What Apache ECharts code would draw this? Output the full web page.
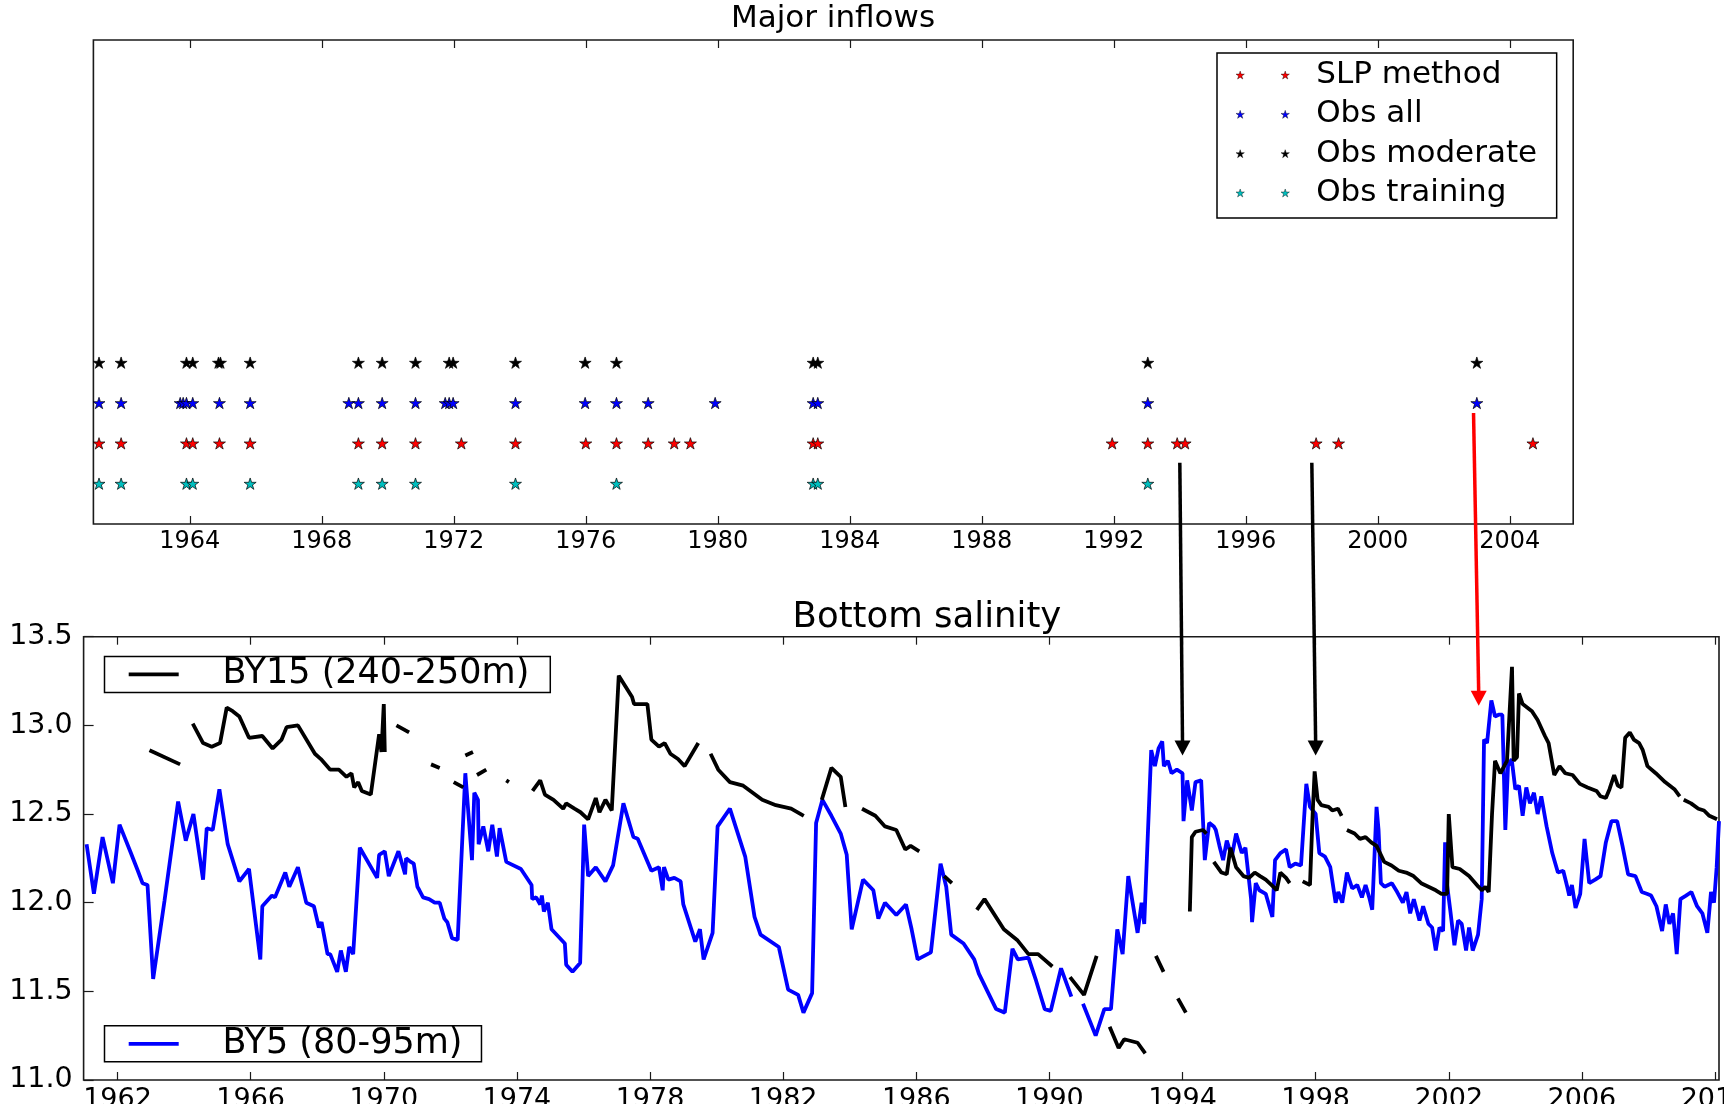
<!DOCTYPE html>
<html><head><meta charset="utf-8">
<script src="https://cdn.jsdelivr.net/npm/echarts@6/dist/echarts.min.js"></script>
<style>html,body{margin:0;padding:0;background:#fff;}#c{width:1724px;height:1104px;}</style>
</head><body><div id="c"></div>
<script>
// ---------- tick labels ----------
const topTicks = [1964, 1968, 1972, 1976, 1980, 1984, 1988, 1992, 1996, 2000, 2004];
const bottomTicks = [1962, 1966, 1970, 1974, 1978, 1982, 1986, 1990, 1994, 1998, 2002, 2006, 2010];

// ---------- Major inflows (years) ----------
const slpYears = [1961.25, 1961.92, 1963.90, 1964.09, 1964.90, 1965.83, 1969.11, 1969.83, 1970.84, 1972.23, 1973.87, 1976.00, 1976.93, 1977.89, 1978.68, 1979.17, 1982.89, 1983.03, 1991.95, 1993.03, 1993.92, 1994.16, 1998.13, 1998.81, 2004.70];
const obsAllYears = [1961.25, 1961.92, 1963.71, 1963.80, 1963.90, 1964.09, 1964.90, 1965.83, 1968.82, 1969.11, 1969.83, 1970.84, 1971.74, 1971.86, 1971.98, 1973.87, 1975.98, 1976.93, 1977.89, 1979.92, 1982.89, 1983.03, 1993.03, 2003.00];
const obsModerateYears = [1961.25, 1961.92, 1963.90, 1964.09, 1964.87, 1964.93, 1965.83, 1969.11, 1969.83, 1970.84, 1971.86, 1971.98, 1973.87, 1975.98, 1976.93, 1982.89, 1983.03, 1993.03, 2003.00];
const obsTrainingYears = [1961.25, 1961.92, 1963.90, 1964.09, 1965.83, 1969.11, 1969.83, 1970.84, 1973.87, 1976.93, 1982.89, 1983.03, 1993.03];
const rowSlp = 2, rowAll = 3, rowModerate = 4, rowTraining = 1;

// ---------- Bottom salinity ----------
const by15Years = [1962.96,1963.88,null,
1964.26,1964.57,1964.83,1965.08,1965.28,1965.46,1965.66,1965.95,1966.35,1966.66,1966.93,1967.08,1967.42,1967.93,1968.11,1968.39,1968.65,1968.88,1969.03,1969.11,1969.23,1969.34,1969.61,1969.86,1969.93,1970.00,1970.03,null,
1970.38,1970.76,null,1971.42,1971.68,null,1972.10,1972.39,null,1972.45,1972.68,null,1972.80,1973.08,null,1973.68,1973.76,null,
1974.47,1974.70,1974.84,1975.10,1975.39,1975.48,1975.73,1975.91,1976.14,1976.37,1976.48,1976.66,1976.85,1977.06,1977.46,1977.52,1977.92,1978.04,1978.27,1978.44,1978.61,1978.84,1979.04,1979.45,null,
1979.82,1980.05,1980.40,1980.80,1981.37,1981.78,1982.24,1982.62,null,
1983.16,1983.45,1983.73,1983.87,null,
1984.37,1984.77,1985.06,1985.40,1985.67,1985.83,1986.09,null,
1986.84,1987.07,null,
1987.82,1988.05,1988.63,1989.03,1989.37,1989.66,1990.09,null,
1990.62,1991.04,1991.42,null,
1991.81,1992.08,1992.25,1992.65,1992.88,null,
1993.20,1993.43,null,1993.86,1994.10,null,
1994.22,1994.28,1994.39,1994.61,1994.72,null,
1994.94,1995.17,1995.33,1995.44,1995.61,1995.83,1996.00,1996.17,1996.33,1996.50,1996.67,1996.83,1996.94,1997.11,1997.22,null,
1997.61,1997.83,1997.91,1997.97,1998.06,1998.17,1998.39,1998.50,1998.67,1998.78,null,
1998.94,1999.17,1999.33,1999.50,1999.67,1999.83,2000.06,2000.28,2000.50,2000.72,2000.94,2001.17,2001.39,2001.61,2001.78,2001.95,2002.00,2002.11,2002.33,2002.61,2002.89,2003.00,2003.10,2003.20,2003.30,2003.39,2003.55,2003.75,2003.90,2003.95,2004.05,2004.11,2004.22,2004.50,2004.67,2004.89,2005.00,2005.17,2005.33,2005.50,2005.72,2005.94,2006.17,2006.44,2006.56,2006.72,2006.83,2006.97,2007.08,2007.19,2007.30,2007.44,2007.56,2007.72,2007.83,2007.97,2008.22,2008.50,2008.78,2008.94,null,
2009.06,2009.28,2009.50,2009.67,2009.83,2010.06];
const by15Sal = [12.86,12.78,null,
13.01,12.90,12.88,12.90,13.10,13.08,13.05,12.93,12.94,12.87,12.92,12.99,13.00,12.84,12.81,12.75,12.75,12.71,12.73,12.65,12.68,12.63,12.61,12.95,12.85,13.12,12.85,null,
13.00,12.96,null,12.78,12.76,null,12.68,12.65,null,12.83,12.85,null,12.72,12.75,null,12.69,12.68,null,
12.63,12.69,12.61,12.58,12.53,12.56,12.53,12.51,12.47,12.59,12.51,12.58,12.52,13.28,13.16,13.12,13.12,12.92,12.88,12.90,12.84,12.81,12.77,12.90,null,
12.84,12.75,12.68,12.66,12.58,12.55,12.53,12.49,null,
12.58,12.76,12.71,12.54,null,
12.53,12.49,12.43,12.41,12.30,12.32,12.29,null,
12.15,12.11,null,
11.96,12.02,11.85,11.79,11.71,11.71,11.64,null,
11.58,11.48,11.70,null,
11.30,11.18,11.23,11.21,11.15,null,
11.70,11.61,null,11.46,11.38,null,
11.95,12.37,12.40,12.41,12.39,null,
12.23,12.17,12.16,12.31,12.20,12.15,12.14,12.17,12.15,12.13,12.10,12.07,12.17,12.14,12.11,null,
12.12,12.10,12.50,12.74,12.58,12.55,12.54,12.52,12.53,12.49,null,
12.41,12.39,12.36,12.37,12.34,12.32,12.23,12.21,12.18,12.17,12.15,12.11,12.09,12.07,12.05,12.05,12.50,12.20,12.19,12.15,12.09,12.07,12.09,12.06,12.50,12.80,12.73,12.80,13.33,12.80,12.82,13.18,13.12,13.08,13.03,12.94,12.90,12.72,12.77,12.73,12.72,12.67,12.65,12.63,12.60,12.59,12.64,12.72,12.66,12.65,12.93,12.96,12.92,12.90,12.86,12.77,12.73,12.68,12.64,12.60,null,
12.58,12.56,12.53,12.52,12.49,12.47];

const by5Years = [1961.07,1961.29,1961.55,1961.86,1962.06,1962.38,1962.61,1962.75,1962.90,1963.07,1963.41,1963.82,1964.05,1964.28,1964.57,1964.68,1964.86,1965.06,1965.31,1965.66,1965.95,1966.29,1966.35,1966.64,1966.73,1967.04,1967.16,1967.42,1967.67,1967.90,1968.05,1968.13,1968.31,1968.39,1968.60,1968.71,1968.86,1968.96,1969.08,1969.28,1969.80,1969.86,1970.03,1970.15,1970.44,1970.64,1970.67,1970.81,1970.90,1971.01,1971.07,1971.18,1971.36,1971.53,1971.68,1971.82,1971.91,1972.05,1972.22,1972.45,1972.65,1972.72,1972.83,1972.85,1972.99,1973.14,1973.26,1973.40,1973.48,1973.68,1974.12,1974.44,1974.46,1974.58,1974.70,1974.75,1974.81,1974.93,1975.04,1975.44,1975.48,1975.67,1975.90,1976.02,1976.14,1976.37,1976.66,1976.89,1977.20,1977.50,1977.63,1978.04,1978.27,1978.38,1978.42,1978.55,1978.73,1978.92,1979.00,1979.36,1979.50,1979.61,1979.88,1980.03,1980.40,1980.86,1981.14,1981.32,1981.87,1982.15,1982.45,1982.61,1982.87,1982.99,1983.18,1983.45,1983.73,1983.91,1984.06,1984.40,1984.71,1984.86,1985.06,1985.40,1985.69,1985.86,1986.04,1986.44,1986.73,1986.90,1987.05,1987.42,1987.74,1987.88,1988.40,1988.66,1988.89,1989.05,1989.37,1989.60,1989.86,1990.04,1990.35,1990.66,null,
1991.01,1991.39,1991.65,1991.85,1992.04,1992.20,1992.37,1992.65,1992.77,1992.85,1993.06,1993.17,1993.28,1993.39,1993.44,1993.56,1993.67,1993.83,1994.00,1994.03,1994.14,1994.28,1994.39,1994.56,1994.67,1994.80,1994.94,1995.00,1995.11,1995.22,1995.33,1995.48,1995.61,1995.78,1995.89,1996.06,1996.09,1996.20,1996.31,1996.50,1996.70,1996.78,1996.94,1997.11,1997.22,1997.39,1997.56,1997.72,1997.83,1998.00,1998.11,1998.28,1998.44,1998.56,1998.60,1998.68,1998.80,1998.91,1998.94,1999.10,1999.25,1999.39,1999.50,1999.61,1999.70,1999.83,1999.89,1999.96,2000.07,2000.29,2000.45,2000.62,2000.73,2000.84,2000.95,2001.12,2001.23,2001.39,2001.50,2001.61,2001.72,2001.83,2001.89,2001.95,2002.05,2002.17,2002.28,2002.39,2002.52,2002.61,2002.72,2002.88,2002.99,2003.06,2003.15,2003.28,2003.39,2003.50,2003.61,2003.70,2003.78,2003.89,2004.00,2004.11,2004.22,2004.33,2004.44,2004.56,2004.67,2004.78,2004.94,2005.11,2005.28,2005.44,2005.56,2005.62,2005.70,2005.81,2005.95,2006.08,2006.22,2006.40,2006.56,2006.72,2006.89,2007.06,2007.22,2007.39,2007.61,2007.80,2007.95,2008.08,2008.24,2008.41,2008.52,2008.63,2008.74,2008.85,2008.96,2009.13,2009.29,2009.46,2009.62,2009.77,2009.88,2009.97,2010.05,2010.12];
const by5Sal = [12.33,12.05,12.37,12.11,12.44,12.29,12.18,12.11,12.10,11.57,12.01,12.57,12.35,12.50,12.13,12.42,12.41,12.64,12.33,12.12,12.19,11.68,11.98,12.04,12.03,12.17,12.09,12.20,12.00,11.98,11.86,11.89,11.71,11.71,11.61,11.73,11.61,11.75,11.71,12.31,12.14,12.27,12.29,12.15,12.29,12.16,12.25,12.23,12.22,12.09,12.07,12.03,12.02,12.00,12.00,11.91,11.89,11.80,11.79,12.73,12.24,12.62,12.58,12.33,12.43,12.29,12.44,12.26,12.42,12.23,12.19,12.10,12.02,12.03,11.99,12.04,11.95,12.00,11.85,11.77,11.65,11.61,11.66,12.44,12.15,12.20,12.12,12.21,12.56,12.37,12.36,12.18,12.20,12.07,12.20,12.13,12.14,12.12,11.99,11.78,11.85,11.68,11.83,12.43,12.53,12.26,11.92,11.82,11.75,11.51,11.48,11.38,11.49,12.45,12.58,12.49,12.39,12.27,11.85,12.13,12.07,11.91,12.00,11.93,11.99,11.85,11.68,11.72,12.22,12.09,11.82,11.77,11.68,11.60,11.40,11.38,11.74,11.68,11.69,11.56,11.40,11.39,11.63,11.47,null,
11.43,11.25,11.40,11.40,11.85,11.71,12.15,11.83,12.00,11.88,12.86,12.77,12.87,12.91,12.77,12.80,12.73,12.75,12.73,12.46,12.69,12.52,12.68,12.69,12.24,12.45,12.43,12.41,12.32,12.24,12.35,12.26,12.39,12.28,12.31,12.02,11.89,12.11,12.07,12.05,11.92,12.24,12.28,12.30,12.20,12.22,12.21,12.67,12.54,12.50,12.28,12.26,12.20,12.05,12.00,12.06,12.00,12.13,12.17,12.08,12.10,12.03,12.10,12.03,11.96,12.54,12.41,12.11,12.09,12.11,12.06,12.00,12.06,11.94,12.02,11.90,11.98,11.88,11.86,11.73,11.86,11.84,12.34,12.10,11.95,11.76,11.90,11.88,11.73,11.86,11.73,11.82,12.02,12.92,12.90,13.14,13.05,13.06,13.06,12.41,12.77,12.81,12.64,12.66,12.49,12.65,12.56,12.62,12.50,12.60,12.43,12.28,12.17,12.18,12.09,12.04,12.10,11.97,12.05,12.36,12.11,12.13,12.15,12.34,12.46,12.46,12.32,12.16,12.15,12.06,12.05,12.04,11.98,11.84,11.99,11.88,11.94,11.71,12.02,12.04,12.06,11.98,11.94,11.83,12.06,12.00,12.20,12.46];

// ---------- arrows linking the panels ----------
const arrowYears = [1994.0, 1998.0, 2002.9];
const arrowStartRow = [1.52, 1.52, 2.75];
const arrowTipSal = [12.83, 12.83, 13.11];
const arrowColors = ['#000000', '#000000', '#ff0000'];

// ---------- helpers ----------
const FONT = 'DejaVu Sans';
function starPath(cx, cy, R) {
  const r = R * 0.381966, pts = [];
  for (let i = 0; i < 10; i++) {
    const a = -Math.PI / 2 + i * Math.PI / 5, rr = i % 2 ? r : R;
    pts.push((cx + rr * Math.cos(a)).toFixed(4) + ' ' + (cy + rr * Math.sin(a)).toFixed(4));
  }
  return 'M' + pts.join(' L') + ' Z';
}
const starSymbol = 'path://' + starPath(0, 0, 1);
const twoStarIcon = 'path://' + starPath(0, 0, 1) + ' ' + starPath(10.23, 0, 1);
const pairs = (xs, ys) => xs.map((x, i) => ys[i] == null ? [x, '-'] : [x, ys[i]]);
const rowData = (yrs, row) => yrs.map(y => [y, row]);

const chart = echarts.init(document.getElementById('c'), null, {renderer: 'canvas'});
const axisCol = '#1a1a1a';
function xAx(grid, pos, min, max, ticks, labelSize) {
  return {
    type: 'value', gridIndex: grid, position: pos, min: min, max: max,
    axisLine: {show: false}, splitLine: {show: false},
    axisTick: {show: true, inside: true, length: 8, customValues: ticks, lineStyle: {color: axisCol, width: 1.2}},
    axisLabel: {show: pos === 'bottom', customValues: ticks, formatter: v => String(v), fontSize: labelSize,
      fontFamily: FONT, color: '#000', margin: 6, hideOverlap: false}
  };
}
const starColors = {'SLP method': '#ff0000', 'Obs all': '#0000ff', 'Obs moderate': '#000000', 'Obs training': '#00bfbf'};
const legendStarItem = name => ({name: name, itemStyle: {color: starColors[name], borderColor: '#000', borderWidth: 0.4}});
const option = {
  animation: false,
  backgroundColor: '#fff',
  title: [
    {text: 'Major inflows', left: 833, top: 3, textAlign: 'center', padding: 0,
      textStyle: {fontSize: 31, fontWeight: 'normal', fontFamily: FONT, color: '#000'}},
    {text: 'Bottom salinity', left: 927, top: 600, textAlign: 'center', padding: 0,
      textStyle: {fontSize: 35.5, fontWeight: 'normal', fontFamily: FONT, color: '#000'}}
  ],
  grid: [
    {left: 93.4, top: 40, width: 1479.8, height: 484, show: true, borderColor: axisCol, borderWidth: 1.6,
      backgroundColor: 'transparent', outerBoundsMode: 'none', containLabel: false},
    {left: 83.6, top: 636.7, width: 1635.4, height: 443.3, show: true, borderColor: axisCol, borderWidth: 1.6,
      backgroundColor: 'transparent', outerBoundsMode: 'none', containLabel: false}
  ],
  xAxis: [
    xAx(0, 'bottom', 1961.08, 2005.92, topTicks, 24),
    xAx(0, 'top', 1961.08, 2005.92, topTicks, 24),
    xAx(1, 'bottom', 1960.98, 2010.12, bottomTicks, 27),
    xAx(1, 'top', 1960.98, 2010.12, bottomTicks, 27)
  ],
  yAxis: [
    {type: 'value', gridIndex: 0, min: 0, max: 12, axisLine: {show: false}, axisTick: {show: false}, axisLabel: {show: false}, splitLine: {show: false}},
    {type: 'value', gridIndex: 1, min: 11, max: 13.5, interval: 0.5, axisLine: {show: false}, splitLine: {show: false},
      axisTick: {show: true, inside: true, length: 10, lineStyle: {color: axisCol, width: 1.2}},
      axisLabel: {formatter: v => v.toFixed(1), fontSize: 28.5, fontFamily: FONT, color: '#000', margin: 11}}
  ],
  legend: [
    {data: ['SLP method', 'Obs all', 'Obs moderate', 'Obs training'].map(legendStarItem), orient: 'vertical', left: 1217, top: 53,
      padding: [2.4, 19.5, 5.4, 18.8], itemGap: 0, icon: twoStarIcon, itemWidth: 53.4, itemHeight: 8,
      itemStyle: {borderWidth: 0.4, borderColor: '#000'},
      selectedMode: false, borderColor: '#000', borderWidth: 1.5, backgroundColor: '#fff',
      textStyle: {fontSize: 31, fontFamily: FONT, color: '#000', lineHeight: 39.3, padding: [0, 0, 0, 21.8]}},
    {data: ['BY15 (240-250m)'], left: 104.5, top: 656.4, padding: [0.5, 21, 0.5, 24.2], icon: 'rect', itemWidth: 50, itemHeight: 3.8,
      selectedMode: false, borderColor: '#000', borderWidth: 1.5, backgroundColor: '#fff',
      textStyle: {fontSize: 35, fontFamily: FONT, color: '#000', lineHeight: 34, padding: [0, 0, 0, 38.8]}},
    {data: ['BY5 (80-95m)'], left: 104.5, top: 1025.8, padding: [0.5, 19, 0.5, 24.2], icon: 'rect', itemWidth: 50, itemHeight: 3.8,
      selectedMode: false, borderColor: '#000', borderWidth: 1.5, backgroundColor: '#fff',
      textStyle: {fontSize: 35, fontFamily: FONT, color: '#000', lineHeight: 34, padding: [0, 0, 0, 38.8]}}
  ],
  series: [
    {name: 'SLP method', type: 'scatter', xAxisIndex: 0, yAxisIndex: 0, symbol: starSymbol, symbolSize: [12, 11.4],
      itemStyle: {color: '#ff0000', borderColor: '#000', borderWidth: 0.7, opacity: 1}, data: rowData(slpYears, rowSlp)},
    {name: 'Obs all', type: 'scatter', xAxisIndex: 0, yAxisIndex: 0, symbol: starSymbol, symbolSize: [12, 11.4],
      itemStyle: {color: '#0000ff', borderColor: '#000', borderWidth: 0.7, opacity: 1}, data: rowData(obsAllYears, rowAll)},
    {name: 'Obs moderate', type: 'scatter', xAxisIndex: 0, yAxisIndex: 0, symbol: starSymbol, symbolSize: [12, 11.4],
      itemStyle: {color: '#000000', borderColor: '#000', borderWidth: 0.7, opacity: 1}, data: rowData(obsModerateYears, rowModerate)},
    {name: 'Obs training', type: 'scatter', xAxisIndex: 0, yAxisIndex: 0, symbol: starSymbol, symbolSize: [12, 11.4],
      itemStyle: {color: '#00bfbf', borderColor: '#000', borderWidth: 0.7, opacity: 1}, data: rowData(obsTrainingYears, rowTraining)},
    {name: 'BY5 (80-95m)', type: 'line', xAxisIndex: 2, yAxisIndex: 1, showSymbol: false, symbol: 'none', connectNulls: false,
      itemStyle: {color: '#0000ff'}, lineStyle: {color: '#0000ff', width: 3.8}, data: pairs(by5Years, by5Sal), z: 2},
    {name: 'BY15 (240-250m)', type: 'line', xAxisIndex: 2, yAxisIndex: 1, showSymbol: false, symbol: 'none', connectNulls: false,
      itemStyle: {color: '#000000'}, lineStyle: {color: '#000000', width: 3.8}, data: pairs(by15Years, by15Sal), z: 3}
  ]
};
chart.setOption(option);

// arrows from the inflow panel to the salinity panel
const graphics = [];
arrowYears.forEach((yr, i) => {
  const p0 = chart.convertToPixel({xAxisIndex: 0, yAxisIndex: 0}, [yr, arrowStartRow[i]]);
  const p1 = chart.convertToPixel({xAxisIndex: 2, yAxisIndex: 1}, [yr, arrowTipSal[i]]);
  const headL = 15, headW = 8;
  graphics.push({type: 'line', z: 100, shape: {x1: p0[0], y1: p0[1], x2: p1[0], y2: p1[1] - headL + 2},
    style: {stroke: arrowColors[i], lineWidth: 3.5}});
  graphics.push({type: 'polygon', z: 100, shape: {points: [[p1[0] - headW, p1[1] - headL], [p1[0] + headW, p1[1] - headL], [p1[0], p1[1]]]},
    style: {fill: arrowColors[i]}});
});
chart.setOption({graphic: graphics});
</script></body></html>
